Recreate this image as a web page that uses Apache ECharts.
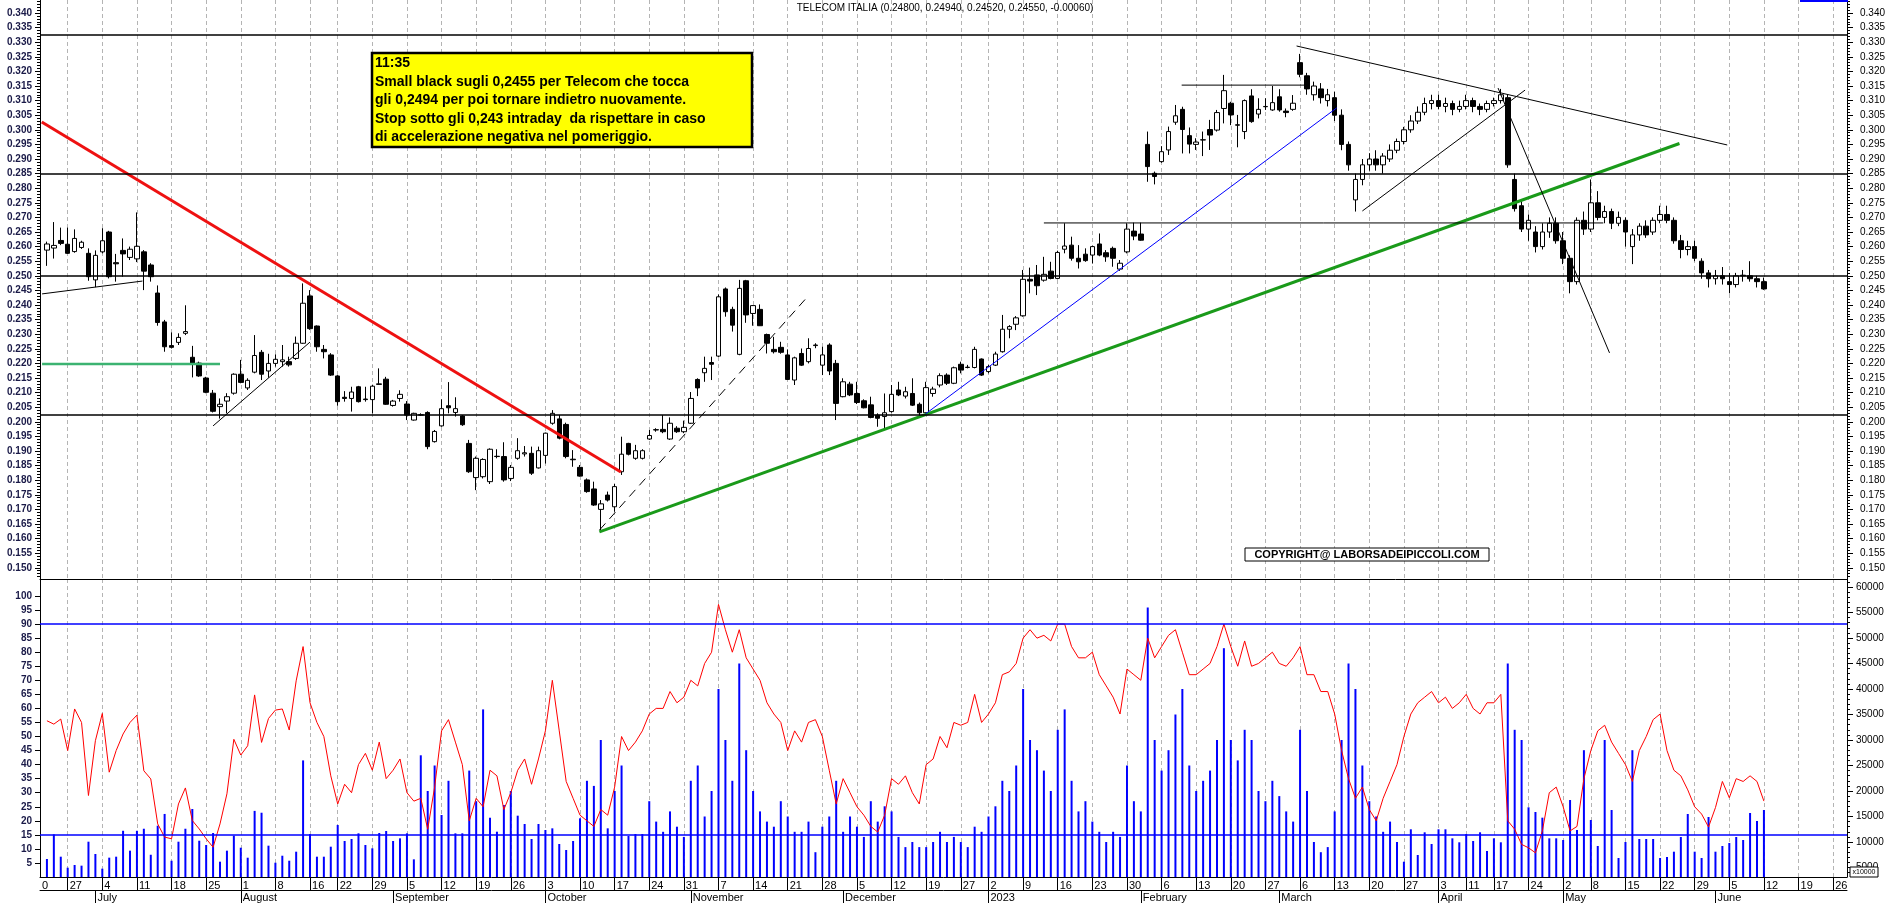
<!DOCTYPE html>
<html><head><meta charset="utf-8">
<script src="https://cdn.jsdelivr.net/npm/echarts@6/dist/echarts.min.js"></script>
<style>html,body{margin:0;padding:0;background:#fff}#c{width:1890px;height:903px}</style>
</head><body><div id="c"></div>
<script>
// ---------- categories ----------
const holidays = ['2022-08-15','2022-12-26','2023-04-07','2023-04-10','2023-05-01'];
const firstSlot = '2022-06-21';   // empty slot at the left axis
const slotCount = 262;            // trading-day slots shown (incl. future days)
const monthNames = ['2023','February','March','April','May','June','July','August','September','October','November','December'];

// ---------- price (open, close, low, high) from 2022-06-22 ----------
const priceOHLC = [
[.2588,.2609,.2534,.2617],[.2595,.2604,.2559,.2684],[.2621,.2611,.2605,.2665],[.2608,.2577,.2575,.2665],[.2583,.2628,.2579,.2659],
[.2597,.2615,.2592,.2620],[.2577,.2497,.2483,.2594],[.2486,.2570,.2461,.2587],[.2582,.2620,.2577,.2663],[.2650,.2497,.2491,.2654],
[.2545,.2541,.2480,.2575],[.2587,.2575,.2497,.2628],[.2563,.2591,.2554,.2600],[.2558,.2601,.2547,.2717],[.2582,.2516,.2451,.2588],
[.2537,.2497,.2480,.2543],[.2441,.2340,.2329,.2467],[.2342,.2257,.2240,.2349],[.2261,.2255,.2251,.2306],[.2272,.2289,.2263,.2303],
[.2303,.2309,.2297,.2399],[.2221,.2201,.2152,.2260],[.2201,.2157,.2154,.2206],[.2150,.2101,.2098,.2154],[.2098,.2036,.2032,.2109],
[.2052,.2060,.2011,.2080],[.2071,.2086,.2029,.2098],[.2098,.2163,.2093,.2166],[.2163,.2135,.2132,.2212],[.2116,.2142,.2109,.2149],
[.2170,.2227,.2166,.2297],[.2238,.2163,.2143,.2246],[.2174,.2200,.2151,.2233],[.2200,.2214,.2189,.2231],[.2206,.2212,.2189,.2263],
[.2206,.2195,.2189,.2223],[.2217,.2269,.2212,.2292],[.2269,.2406,.2267,.2474],[.2431,.2319,.2315,.2451],[.2328,.2257,.2240,.2330],
[.2248,.2240,.2217,.2263],[.2229,.2160,.2157,.2235],[.2157,.2069,.2055,.2160],[.2084,.2080,.2069,.2105],[.2080,.2102,.2035,.2120],
[.2120,.2069,.2066,.2123],[.2078,.2076,.2069,.2120],[.2076,.2122,.2029,.2127],[.2128,.2130,.2127,.2183],[.2146,.2060,.2058,.2154],
[.2056,.2071,.2052,.2075],[.2080,.2094,.2069,.2108],[.2061,.2023,.2006,.2071],[.2006,.2029,.2004,.2031],[.2024,.2023,.2020,.2029],
[.2032,.1915,.1906,.2036],[.1932,.1967,.1929,.1972],[.1986,.2045,.1983,.2077],[.2055,.2048,.2029,.2136],[.2032,.2045,.2018,.2084],
[.2020,.1990,.1986,.2023],[.1926,.1829,.1825,.1938],[.1809,.1875,.1766,.1881],[.1812,.1871,.1806,.1875],[.1795,.1906,.1787,.1909],
[.1882,.1881,.1875,.1906],[.1881,.1801,.1795,.1930],[.1806,.1844,.1797,.1852],[.1875,.1901,.1870,.1944],[.1890,.1894,.1881,.1917],
[.1892,.1824,.1818,.1915],[.1842,.1901,.1840,.1915],[.1885,.1961,.1857,.1963],[.1995,.2029,.1990,.2040],[.2010,.1944,.1940,.2023],
[.1991,.1881,.1875,.1997],[.1872,.1870,.1846,.1903],[.1844,.1814,.1812,.1852],[.1801,.1761,.1757,.1806],[.1770,.1715,.1712,.1795],
[.1700,.1719,.1624,.1732],[.1749,.1732,.1727,.1761],[.1709,.1778,.1692,.1787],[.1829,.1889,.1818,.1949],[.1926,.1889,.1885,.1928],
[.1875,.1901,.1870,.1921],[.1875,.1901,.1871,.1906],[.1941,.1953,.1938,.1972],[.1973,.1972,.1966,.1978],[.1974,.1966,.1961,.2023],
[.1941,.1995,.1938,.2015],[.1978,.1966,.1962,.1985],[.1966,.1981,.1961,.2004],[.1995,.2080,.1993,.2102],[.2145,.2116,.2088,.2149],
[.2168,.2183,.2137,.2223],[.2203,.2197,.2143,.2223],[.2225,.2428,.2222,.2436],[.2455,.2377,.2360,.2460],[.2385,.2331,.2309,.2394],
[.2231,.2457,.2228,.2486],[.2483,.2366,.2339,.2486],[.2371,.2398,.2329,.2400],[.2385,.2329,.2328,.2402],[.2299,.2269,.2234,.2302],
[.2248,.2240,.2234,.2291],[.2255,.2238,.2233,.2274],[.2229,.2145,.2143,.2248],[.2143,.2219,.2126,.2223],[.2234,.2194,.2191,.2251],
[.2206,.2251,.2200,.2286],[.2261,.2263,.2252,.2269],[.2194,.2229,.2160,.2257],[.2263,.2174,.2160,.2269],[.2200,.2063,.2006,.2212],
[.2086,.2137,.2084,.2149],[.2129,.2092,.2088,.2137],[.2097,.2066,.2061,.2137],[.2072,.2048,.2046,.2077],[.2058,.2015,.2012,.2086],
[.2023,.2012,.1983,.2029],[.2018,.2031,.1972,.2097],[.2035,.2094,.2031,.2126],[.2109,.2092,.2088,.2137],[.2088,.2103,.2080,.2120],
[.2097,.2057,.2054,.2149],[.2060,.2031,.2020,.2066],[.2031,.2117,.2029,.2137],[.2097,.2112,.2086,.2120],[.2126,.2158,.2118,.2166],
[.2160,.2132,.2126,.2166],[.2132,.2185,.2129,.2189],[.2197,.2177,.2166,.2206],[.2187,.2186,.2183,.2195],[.2186,.2248,.2183,.2257],
[.2215,.2160,.2157,.2217],[.2172,.2189,.2166,.2195],[.2194,.2232,.2191,.2240],[.2240,.2317,.2237,.2366],[.2317,.2326,.2286,.2331],
[.2334,.2356,.2314,.2362],[.2363,.2488,.2360,.2520],[.2488,.2482,.2440,.2528],[.2503,.2466,.2434,.2537],[.2485,.2505,.2480,.2565],
[.2516,.2491,.2488,.2548],[.2491,.2580,.2488,.2586],[.2591,.2602,.2577,.2680],[.2605,.2560,.2552,.2634],[.2560,.2548,.2525,.2605],
[.2574,.2552,.2548,.2594],[.2571,.2600,.2542,.2603],[.2609,.2571,.2567,.2645],[.2579,.2565,.2548,.2588],[.2594,.2560,.2531,.2600],
[.2523,.2543,.2517,.2554],[.2582,.2660,.2577,.2680],[.2653,.2636,.2622,.2682],[.2643,.2622,.2620,.2682],[.2950,.2874,.2822,.2994],
[.2851,.2840,.2813,.2857],[.2891,.2925,.2887,.2944],[.2931,.2994,.2914,.3011],[.3026,.3048,.3017,.3085],[.3070,.3001,.2919,.3079],
[.2980,.2951,.2919,.3008],[.2950,.2958,.2931,.2971],[.2965,.2966,.2910,.2994],[.3001,.2982,.2931,.3034],[.2999,.3059,.2994,.3068],
[.3073,.3134,.3022,.3188],[.3091,.3051,.3016,.3096],[.3017,.3016,.2940,.3051],[.2994,.3100,.2968,.3104],[.3116,.3028,.3024,.3139],
[.3054,.3070,.3039,.3108],[.3079,.3080,.3068,.3108],[.3068,.3093,.3065,.3150],[.3113,.3068,.3062,.3139],[.3064,.3059,.3043,.3073],
[.3070,.3091,.3065,.3119],[.3230,.3190,.3180,.3260],[.3185,.3140,.3120,.3195],[.3120,.3150,.3100,.3165],[.3140,.3110,.3090,.3160],
[.3100,.3120,.3080,.3140],[.3110,.3050,.3030,.3130],[.3050,.2950,.2930,.3070],[.2950,.2880,.2860,.2960],[.2760,.2830,.2720,.2850],
[.2830,.2880,.2810,.2900],[.2880,.2900,.2860,.2920],[.2900,.2880,.2860,.2930],[.2880,.2910,.2850,.2920],[.2900,.2930,.2890,.2950],
[.2930,.2960,.2920,.2970],[.2960,.3000,.2950,.3010],[.3000,.3030,.2990,.3050],[.3030,.3060,.3020,.3080],[.3060,.3090,.3050,.3110],
[.3090,.3100,.3070,.3120],[.3100,.3080,.3070,.3120],[.3080,.3090,.3060,.3110],[.3090,.3070,.3050,.3100],[.3070,.3080,.3060,.3100],
[.3080,.3100,.3070,.3120],[.3100,.3080,.3060,.3110],[.3080,.3070,.3050,.3090],[.3070,.3090,.3060,.3100],[.3090,.3100,.3080,.3110],
[.3100,.3120,.3090,.3140],[.3110,.2880,.2870,.3120],[.2830,.2730,.2720,.2850],[.2740,.2660,.2650,.2760],[.2660,.2690,.2620,.2710],
[.2650,.2600,.2580,.2670],[.2600,.2650,.2590,.2680],[.2650,.2680,.2630,.2700],[.2680,.2620,.2610,.2700],[.2620,.2560,.2540,.2650],
[.2560,.2480,.2440,.2570],[.2480,.2690,.2470,.2700],[.2690,.2660,.2640,.2720],[.2660,.2750,.2650,.2830],[.2750,.2700,.2690,.2790],
[.2700,.2720,.2680,.2740],[.2720,.2680,.2660,.2730],[.2680,.2700,.2670,.2720],[.2690,.2650,.2600,.2700],[.2600,.2640,.2540,.2660],
[.2640,.2670,.2620,.2680],[.2670,.2640,.2630,.2690],[.2650,.2690,.2640,.2700],[.2690,.2710,.2680,.2740],[.2710,.2690,.2680,.2740],
[.2690,.2620,.2610,.2700],[.2620,.2590,.2560,.2640],[.2590,.2600,.2570,.2620],[.2600,.2560,.2550,.2620],[.2550,.2510,.2490,.2560],
[.2510,.2490,.2460,.2520],[.2490,.2500,.2470,.2520],[.2500,.2490,.2470,.2530],[.2480,.2470,.2440,.2510],[.2470,.2500,.2460,.2510],
[.2500,.2502,.2480,.2520],[.2500,.2490,.2480,.2550],[.2490,.2480,.2460,.2500],[.2480,.2455,.2452,.2494]
];

// ---------- oscillator (left scale 0-100) ----------
const rsiValues = [
55.6,54.4,56.2,45,59.8,55,29,48.5,58.2,37.3,45,50.9,55,57.6,37.8,34.9,18.9,14.2,13.6,26,
31.7,20.1,17.1,13.6,10.6,18.9,29.6,49,43.4,46.7,64.8,47.9,56.4,59.4,59.8,52.3,69.8,82,62,55,
50,36,26,33,30,40,44,38,48,35,38,42,30,27,28,17,32,52,56,48,
40,20,28,25,38,36,24,30,38,42,33,42,52,70,52,34,28,22,20,18,
24,22,32,50,45,48,52,58,60,60,66,62,64,70,68,76,80,97,88,80,
88,78,74,70,62,58,55,45,52,48,55,56,50,38,26,35,30,25,22,18,
16,22,35,33,36,30,26,40,42,50,46,55,54,55,65,55,58,62,72,73,
76,85,88,85,86,84,90,90,82,78,78,80,72,68,64,58,74,72,70,85,
78,82,86,88,80,72,72,74,76,82,90,82,75,84,75,76,78,80,76,75,
78,82,72,72,66,66,58,45,35,28,32,24,20,28,34,40,50,58,62,64,
66,62,64,60,62,65,60,58,62,62,65,20,17,11.6,10.4,8.6,16.4,30,32,25,
16.4,18,35,45,52,54,48,44,40,34,45,50,56,58,45,38,36,31,25,22.4,
17.8,24.7,34,28.2,35,34,36,34,27
];

// ---------- volume (right scale) ----------
const volumeValues = [
6670,11500,7120,4960,5490,5360,10060,7650,4770,6930,7120,12200,8300,12200,12600,7500,13200,15500,6330,10060,
12600,16470,10250,9410,11760,6140,8300,11240,8880,6920,16100,15740,9280,5940,7310,6330,8100,26000,11570,7120,
7120,9080,13330,10200,10590,11700,9410,8760,11760,12160,10200,10720,11700,6600,27000,20000,25000,15300,22000,11700,
11700,24000,18000,36000,14760,12020,17250,20000,15160,13530,10590,13530,12350,12680,9610,8430,10200,14640,22000,21000,
30000,12680,20000,25000,11180,11570,11570,18000,14000,12000,16000,13000,11000,22000,25000,15000,20000,40000,30000,22000,
45000,28000,20000,16000,14000,13000,18000,15000,12000,12000,14000,8000,13000,15000,22000,12000,15000,13000,11000,18000,
14000,17000,16000,11000,9000,10000,9000,9000,10000,12000,10000,11000,10000,9000,13000,12000,15000,17000,22000,20000,
25000,40000,30000,28000,24000,20000,32000,36000,22000,16000,18000,14000,12000,10000,12000,11000,25000,18000,16000,56000,
30000,24000,28000,35000,40000,25000,20000,22000,24000,30000,48000,30000,26000,32000,30000,20000,18000,22000,19000,16000,
14000,32000,20000,10000,8000,9000,16000,30000,45000,40000,25000,18000,15000,12000,14000,10000,6140,12490,7450,11900,
9610,12490,12490,10720,9940,11570,10200,11900,8240,10720,9940,45000,32000,30000,16800,15880,14770,10720,10720,10390,
18230,12350,28000,14310,9220,30000,16270,6860,10000,28000,10590,10590,10590,6860,7060,8100,10980,15490,8100,6860,
14900,8100,9220,9800,10980,10390,15690,14120,16270
];

// ---------- tick labels ----------
const priceTickLabels = [0.150,0.155,0.160,0.165,0.170,0.175,0.180,0.185,0.190,0.195,0.200,0.205,0.210,0.215,0.220,0.225,0.230,0.235,0.240,0.245,0.250,0.255,0.260,0.265,0.270,0.275,0.280,0.285,0.290,0.295,0.300,0.305,0.310,0.315,0.320,0.325,0.330,0.335,0.340];
const rsiTickLabels = [5,10,15,20,25,30,35,40,45,50,55,60,65,70,75,80,85,90,95,100];
const volTickLabels = [5000,10000,15000,20000,25000,30000,35000,40000,45000,50000,55000,60000];

// ---------- horizontal levels & drawn trend lines (slot index, price) ----------
const priceLevels = [0.3325, 0.285, 0.250, 0.2025];
const oscLevels = [90, 15];
const redTrend   = [[0.25,0.3027],[83.9,0.1828]];
const greenTrend = [[80.8,0.1623],[236.8,0.2953]];
const greenLevel = [[0.3,0.2198],[26.0,0.2198]];
const blueTrend  = [[127.9,0.2027],[187.3,0.3075]];
const blackTrends = [
  [[0.3,0.2438],[14.8,0.2482]],
  [[25.0,0.1986],[39.0,0.2273]],
  [[145,0.2681],[225.8,0.2681]],
  [[164.9,0.3153],[183.2,0.3153]],
  [[181.5,0.3287],[243.7,0.2948]],
  [[191.0,0.2722],[214.5,0.3136]],
  [[210.6,0.3143],[226.7,0.2236]]
];
const dashedTrend = [[80.8,0.1629],[110.7,0.2424]];

// ---------- build ----------
const FONT = '"Liberation Sans", Arial, sans-serif';
function buildDates(){
  const out=[]; const d=new Date(firstSlot+'T00:00:00Z');
  while(out.length<slotCount){
    const wd=d.getUTCDay(); const s=d.toISOString().slice(0,10);
    if(wd!==0&&wd!==6&&!holidays.includes(s)) out.push(s);
    d.setUTCDate(d.getUTCDate()+1);
  }
  return out;
}
const dates = buildDates();
const dt = s => new Date(s+'T00:00:00Z');
function weekStart(k){
  if(k<=0) return false;
  const a=dt(dates[k-1]), b=dt(dates[k]);
  return b.getUTCDay()<=a.getUTCDay() || (b-a)>=7*86400000;
}
function monthStart(k){
  if(k<=0) return false;
  return dates[k].slice(5,7)!==dates[k-1].slice(5,7);
}
const candleData=[], volData=[], rsiData=[];
for(let k=0;k<slotCount;k++){
  const j=k-1;
  if(j>=0 && j<priceOHLC.length){
    const r=priceOHLC[j]; candleData.push([r[0],r[1],r[2],r[3]]);
    volData.push(volumeValues[j]); rsiData.push(rsiValues[j]);
  } else { candleData.push(['-','-','-','-']); volData.push('-'); rsiData.push('-'); }
}
const PMAX = 0.34 + 13/2920, PMIN = 0.34 - 566/2920;
const RMAX = 298/2.81;
const VMIN = 3137, VMAX = 3137 + 298/0.0051;
const minorPrice=[]; for(let v=146; v<=344; v++) minorPrice.push(v/1000);
const minorVol=[]; for(let v=4000; v<=61000; v+=1000) minorVol.push(v);

function tl(data, color, width, type){
  return {type:'line', xAxisIndex:3, yAxisIndex:0, data, symbol:'none', silent:true, z:4,
    lineStyle:{color, width, type:type||'solid'}, animation:false};
}
const gridLine = {show:true, lineStyle:{color:'#b4b4b4', width:1, type:[4,3]}};
const yBase = (grid, pos, min, max) => ({type:'value', gridIndex:grid, position:pos, min, max,
  axisLine:{show:true, onZero:false, lineStyle:{color:'#000'}}, splitLine:{show:false}});

const option = {
  animation:false,
  backgroundColor:'#fff',
  grid:[{left:40, width:1807, top:0, height:579},{left:40, width:1807, top:579, height:298}],
  xAxis:[
    {type:'category', gridIndex:0, data:dates, boundaryGap:false,
     axisLine:{show:true, onZero:false, lineStyle:{color:'#000'}}, axisTick:{show:false}, axisLabel:{show:false},
     splitLine:Object.assign({interval:(i)=>weekStart(i)}, gridLine)},
    {type:'category', gridIndex:1, data:dates, boundaryGap:false, position:'bottom',
     axisLine:{show:true, onZero:false, lineStyle:{color:'#000'}},
     axisTick:{show:true, interval:(i)=>weekStart(i), length:13, lineStyle:{color:'#000'}},
     axisLabel:{show:true, interval:(i)=>i===0||weekStart(i), formatter:(v,i)=> i===0?'0':String(parseInt(v.slice(8,10),10)),
       align:'left', padding:[0,0,0,2], margin:3, fontSize:11, color:'#000', fontFamily:FONT, verticalAlign:'top'},
     splitLine:Object.assign({interval:(i)=>weekStart(i)}, gridLine)},
    {type:'category', gridIndex:1, data:dates, boundaryGap:false, position:'bottom', offset:13,
     axisLine:{show:true, onZero:false, lineStyle:{color:'#000'}},
     axisTick:{show:true, interval:(i)=>monthStart(i), length:13, lineStyle:{color:'#000'}},
     axisLabel:{show:true, interval:(i)=>monthStart(i), formatter:(v)=>monthNames[parseInt(v.slice(5,7),10)-1],
       align:'left', padding:[0,0,0,2], margin:2, fontSize:11, color:'#000', fontFamily:FONT, verticalAlign:'top'},
     splitLine:{show:false}},
    {type:'value', gridIndex:0, min:0, max:slotCount-1, show:false}
  ],
  yAxis:[
    Object.assign(yBase(0,'left',PMIN,PMAX), {
      axisTick:{show:true, customValues:priceTickLabels, length:5, lineStyle:{color:'#000'}},
      axisLabel:{show:true, customValues:priceTickLabels, formatter:v=>v.toFixed(3), fontSize:10, fontWeight:'bold', color:'#1a1a48', fontFamily:FONT, margin:8}}),
    Object.assign(yBase(0,'right',PMIN,PMAX), {
      axisTick:{show:true, customValues:priceTickLabels, length:6, lineStyle:{color:'#000'}},
      axisLabel:{show:true, customValues:priceTickLabels, formatter:v=>v.toFixed(3), fontSize:10, color:'#000', fontFamily:FONT, margin:13}}),
    Object.assign(yBase(0,'left',PMIN,PMAX), {axisLine:{show:false},
      axisTick:{show:true, customValues:minorPrice, length:3, lineStyle:{color:'#000'}}, axisLabel:{show:false}}),
    Object.assign(yBase(0,'right',PMIN,PMAX), {axisLine:{show:false},
      axisTick:{show:true, customValues:minorPrice, length:3, lineStyle:{color:'#000'}}, axisLabel:{show:false}}),
    Object.assign(yBase(1,'left',0,RMAX), {
      axisTick:{show:true, customValues:rsiTickLabels, length:5, lineStyle:{color:'#000'}},
      axisLabel:{show:true, customValues:rsiTickLabels, formatter:v=>String(v), fontSize:10, fontWeight:'bold', color:'#1a1a48', fontFamily:FONT, margin:8}}),
    Object.assign(yBase(1,'right',VMIN,VMAX), {
      axisTick:{show:true, customValues:volTickLabels, length:6, lineStyle:{color:'#000'}},
      axisLabel:{show:true, customValues:volTickLabels, formatter:v=>String(v), fontSize:10, color:'#000', fontFamily:FONT, margin:9}}),
    Object.assign(yBase(1,'right',VMIN,VMAX), {axisLine:{show:false},
      axisTick:{show:true, customValues:minorVol, length:3, lineStyle:{color:'#000'}}, axisLabel:{show:false}})
  ],
  series:[
    {type:'bar', xAxisIndex:1, yAxisIndex:5, data:volData, barWidth:2, itemStyle:{color:'#0000ff'}, silent:true, z:2},
    {type:'line', xAxisIndex:1, yAxisIndex:4, data:rsiData, symbol:'none', showSymbol:false, silent:true, z:3,
     lineStyle:{color:'#ff0000', width:1},
     markLine:{silent:true, symbol:'none', precision:4, label:{show:false}, lineStyle:{color:'#0000ff', width:1.5, type:'solid'},
       data:oscLevels.map(v=>({yAxis:v}))}},
    {type:'candlestick', xAxisIndex:0, yAxisIndex:0, data:candleData, barWidth:5, silent:true, z:3,
     itemStyle:{color:'#ffffff', color0:'#000000', borderColor:'#000000', borderColor0:'#000000', borderWidth:1},
     markLine:{silent:true, symbol:'none', precision:4, label:{show:false}, lineStyle:{color:'#000', width:1.5, type:'solid'},
       data:priceLevels.map(v=>({yAxis:v}))}},
    tl(redTrend,'#ee1111',3),
    tl(greenTrend,'#1a9a1a',3),
    tl(greenLevel,'#3cb371',2.5),
    tl(blueTrend,'#0000ff',1),
    ...blackTrends.map(d=>tl(d,'#000',1)),
    tl(dashedTrend,'#000',1,[9,6])
  ],
  graphic:[
    {type:'text', left:'center', top:3, style:{text:'TELECOM ITALIA (0.24800, 0.24940, 0.24520, 0.24550, -0.00060)', font:'10px '+FONT, fill:'#000'}, z:10},
    {type:'line', shape:{x1:1800,y1:1,x2:1848,y2:1}, style:{stroke:'#0000ff', lineWidth:2}, z:10},
    {type:'rect', shape:{x:372,y:53,width:380,height:94}, style:{fill:'#ffff00', stroke:'#000', lineWidth:2.5}, z:10},
    {type:'text', x:375, y:54, z:11, style:{text:'11:35\nSmall black sugli 0,2455 per Telecom che tocca\ngli 0,2494 per poi tornare indietro nuovamente.\nStop sotto gli 0,243 intraday  da rispettare in caso\ndi accelerazione negativa nel pomeriggio.',
      font:'bold 14px '+FONT, fill:'#000', lineHeight:18.5}},
    {type:'rect', shape:{x:1245,y:548,width:244,height:13}, style:{fill:'#fff', stroke:'#000', lineWidth:1}, z:10},
    {type:'text', x:1367, y:555, z:11, style:{text:'COPYRIGHT@ LABORSADEIPICCOLI.COM', font:'bold 11px '+FONT, fill:'#000', align:'center', verticalAlign:'middle'}},
    {type:'rect', shape:{x:1850,y:867,width:28,height:10}, style:{fill:'#fff', stroke:'#000', lineWidth:1}, z:10},
    {type:'text', x:1864, y:872, z:11, style:{text:'x10000', font:'7px '+FONT, fill:'#000', align:'center', verticalAlign:'middle'}}
  ]
};
const chart = echarts.init(document.getElementById('c'));
chart.setOption(option);
</script></body></html>
